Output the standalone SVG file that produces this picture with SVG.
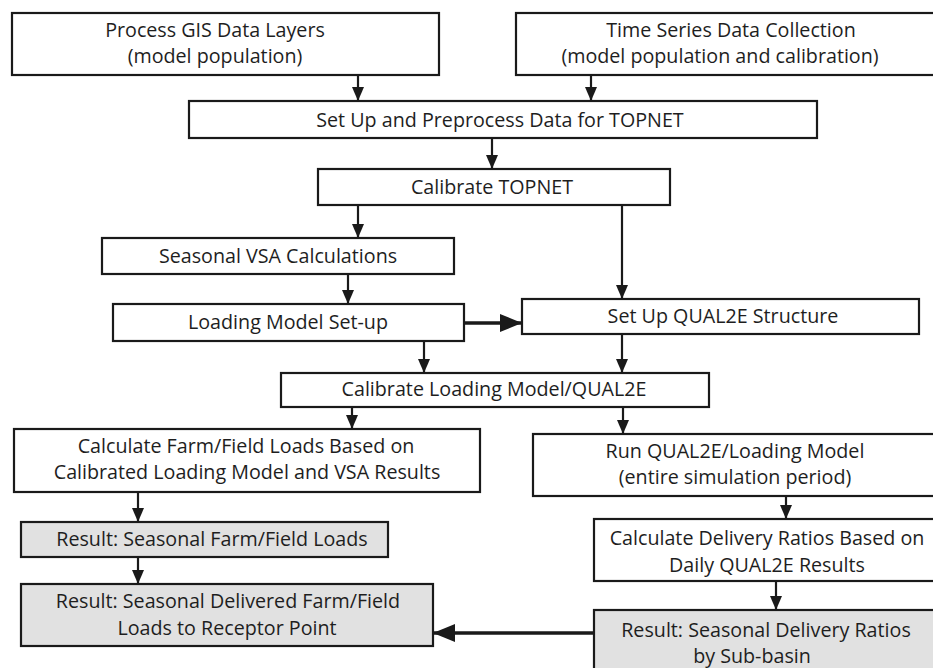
<svg xmlns="http://www.w3.org/2000/svg" width="933" height="668" viewBox="0 0 933 668">
<defs>
<style>
.box{fill:#ffffff;stroke:#1a1a1a;stroke-width:2.2}
.res{fill:#e1e1e1;stroke:#1a1a1a;stroke-width:2.2}
text{font-family:"Open Sans","Noto Sans",sans-serif;font-size:19.7px;fill:#1e1e1e;text-anchor:middle}
.c{fill:none;stroke:#1a1a1a;stroke-width:2.2}
.ct{fill:none;stroke:#1a1a1a;stroke-width:3.6}
</style>
<marker id="arr" markerUnits="userSpaceOnUse" markerWidth="14" markerHeight="12" refX="14" refY="6" orient="auto" viewBox="0 0 14 12">
<path d="M0,0 L14,6 L0,12 z" fill="#1a1a1a"/>
</marker>
<marker id="arrL" markerUnits="userSpaceOnUse" markerWidth="22" markerHeight="18" refX="22" refY="9" orient="auto" viewBox="0 0 22 18">
<path d="M0,0 L22,9 L0,18 z" fill="#1a1a1a"/>
</marker>
</defs>
<rect width="933" height="668" fill="#ffffff"/>

<g id="n1"><rect class="box" x="12" y="13" width="427" height="62"/>
<text x="215" y="37">Process GIS Data Layers</text><text x="215" y="63">(model population)</text></g>

<g id="n2"><rect class="box" x="516" y="13" width="430" height="62"/>
<text x="731" y="37">Time Series Data Collection</text><text x="720" y="63">(model population and calibration)</text></g>

<g id="n3"><rect class="box" x="189" y="101" width="628" height="37"/>
<text x="500" y="127">Set Up and Preprocess Data for TOPNET</text></g>

<g id="n4"><rect class="box" x="318" y="169" width="352" height="36"/>
<text x="492" y="194">Calibrate TOPNET</text></g>

<g id="n5"><rect class="box" x="102" y="238" width="352" height="36"/>
<text x="278" y="263">Seasonal VSA Calculations</text></g>

<g id="n6"><rect class="box" x="113" y="304" width="351" height="37"/>
<text x="288" y="329">Loading Model Set-up</text></g>

<g id="n7"><rect class="box" x="522" y="299" width="397" height="35"/>
<text x="723" y="323">Set Up QUAL2E Structure</text></g>

<g id="n8"><rect class="box" x="281" y="373" width="428" height="34"/>
<text x="494" y="396">Calibrate Loading Model/QUAL2E</text></g>

<g id="n9"><rect class="box" x="14" y="429" width="466" height="63"/>
<text x="246" y="453">Calculate Farm/Field Loads Based on</text><text x="247" y="479">Calibrated Loading Model and VSA Results</text></g>

<g id="n10"><rect class="box" x="533" y="434" width="413" height="62"/>
<text x="735" y="458">Run QUAL2E/Loading Model</text><text x="735" y="484">(entire simulation period)</text></g>

<g id="n11"><rect class="res" x="21" y="522" width="367" height="35"/>
<text x="212" y="546">Result: Seasonal Farm/Field Loads</text></g>

<g id="n12"><rect class="res" x="21" y="584" width="412" height="62"/>
<text x="228" y="608">Result: Seasonal Delivered Farm/Field</text><text x="227" y="635">Loads to Receptor Point</text></g>

<g id="n13"><rect class="box" x="594" y="519" width="352" height="62"/>
<text x="767" y="545">Calculate Delivery Ratios Based on</text><text x="767" y="572">Daily QUAL2E Results</text></g>

<g id="n14"><rect class="res" x="594" y="610" width="352" height="70"/>
<text x="766" y="637">Result: Seasonal Delivery Ratios</text><text x="752" y="663">by Sub-basin</text></g>

<g id="connectors">
<path class="c" d="M358,75 V101" marker-end="url(#arr)"/>
<path class="c" d="M591,75 V101" marker-end="url(#arr)"/>
<path class="c" d="M492,138 V169" marker-end="url(#arr)"/>
<path class="c" d="M358,205 V238" marker-end="url(#arr)"/>
<path class="c" d="M348,274 V304" marker-end="url(#arr)"/>
<path class="c" d="M622,205 V299" marker-end="url(#arr)"/>
<path class="ct" d="M464,323 H522" marker-end="url(#arrL)"/>
<path class="c" d="M424,341 V373" marker-end="url(#arr)"/>
<path class="c" d="M622,334 V373" marker-end="url(#arr)"/>
<path class="c" d="M352,407 V429" marker-end="url(#arr)"/>
<path class="c" d="M623,407 V434" marker-end="url(#arr)"/>
<path class="c" d="M138,492 V522" marker-end="url(#arr)"/>
<path class="c" d="M138,557 V584" marker-end="url(#arr)"/>
<path class="c" d="M786,496 V519" marker-end="url(#arr)"/>
<path class="c" d="M776,581 V610" marker-end="url(#arr)"/>
<path class="ct" d="M594,633 H433" marker-end="url(#arrL)"/>
</g>
</svg>
